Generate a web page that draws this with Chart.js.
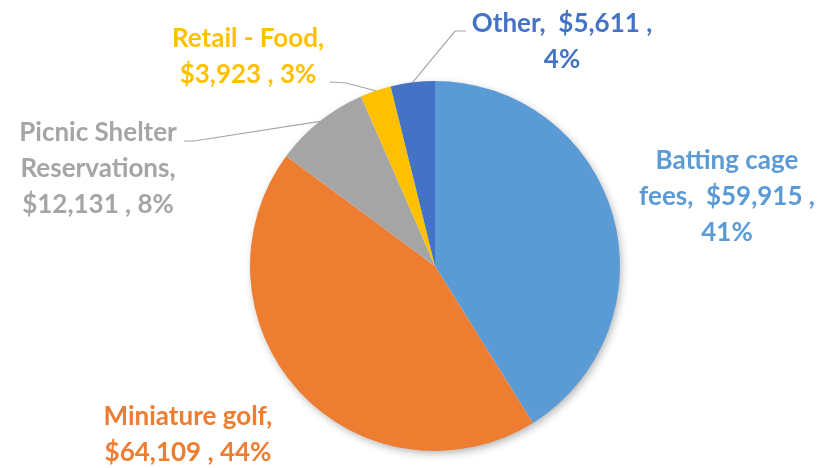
<!DOCTYPE html>
<html>
<head>
<meta charset="utf-8">
<script src="https://cdn.jsdelivr.net/npm/chart.js@4.4.1/dist/chart.umd.min.js"></script>
<style>
  html, body { margin: 0; padding: 0; background: #fff; }
  #wrap { width: 823px; height: 468px; position: relative; }
</style>
</head>
<body>
<div id="wrap"><canvas id="revenue-pie"></canvas></div>
<script>
// revenue by source
const categories = ['Batting cage fees', 'Miniature golf', 'Picnic Shelter Reservations', 'Retail - Food', 'Other'];
const revenue = [59915, 64109, 12131, 3923, 5611];
const sliceColors = ['#5B9BD5', '#ED7D31', '#A5A5A5', '#FFC000', '#4472C4'];

const total = revenue.reduce((a, b) => a + b, 0);
const money = v => '$' + v.toLocaleString('en-US');
const pct = v => Math.round(v / total * 100) + '%';

// how each data label wraps; {v} = amount, {p} = percent
const labelWrap = [
    ['Batting cage', 'fees,  {v} ,', '{p}'],
    ['Miniature golf,', '{v} , {p}'],
    ['Picnic Shelter', 'Reservations,', '{v} , {p}'],
    ['Retail - Food,', '{v} , {p}'],
    ['Other,  {v} ,', '{p}']
];
// label centre x, first line y
const labelPos = [
    { x: 727, y: 161 },
    { x: 188, y: 417 },
    { x: 98, y: 133 },
    { x: 248, y: 39 },
    { x: 562, y: 24 }
];
// leader lines: start point near the label and elbow, end is on the slice edge
const leaders = [
    null,
    null,
    { from: [184, 141], elbow: [194, 141] },
    { from: [330, 82], elbow: [346, 83] },
    { from: [466, 31], elbow: [455, 31] }
];
const lineGap = 36;

const pieShadow = {
    id: 'pieShadow',
    beforeDatasetsDraw(chart) {
        const arc = chart.getDatasetMeta(0).data[0];
        if (!arc) return;
        const ctx = chart.ctx;
        ctx.save();
        ctx.shadowColor = 'rgba(0,0,0,0.32)';
        ctx.shadowBlur = 9;
        ctx.shadowOffsetX = 2;
        ctx.shadowOffsetY = 3;
        ctx.fillStyle = '#fff';
        ctx.beginPath();
        ctx.arc(arc.x, arc.y, arc.outerRadius - 1, 0, Math.PI * 2);
        ctx.fill();
        ctx.restore();
    }
};

const sliceLabels = {
    id: 'sliceLabels',
    afterDatasetsDraw(chart) {
        const ctx = chart.ctx;
        const arcs = chart.getDatasetMeta(0).data;
        ctx.save();
        arcs.forEach((arc, i) => {
            const ld = leaders[i];
            if (ld) {
                const mid = (arc.startAngle + arc.endAngle) / 2;
                const ex = arc.x + Math.cos(mid) * arc.outerRadius;
                const ey = arc.y + Math.sin(mid) * arc.outerRadius;
                ctx.strokeStyle = '#A6A6A6';
                ctx.lineWidth = 1.2;
                ctx.beginPath();
                ctx.moveTo(ld.from[0], ld.from[1]);
                ctx.lineTo(ld.elbow[0], ld.elbow[1]);
                ctx.lineTo(ex, ey);
                ctx.stroke();
            }
            ctx.fillStyle = sliceColors[i];
            ctx.font = 'bold 26px Lato';
            ctx.textAlign = 'center';
            ctx.textBaseline = 'middle';
            labelWrap[i].forEach((line, k) => {
                const txt = line.replace('{v}', money(revenue[i])).replace('{p}', pct(revenue[i]));
                ctx.fillText(txt, labelPos[i].x, labelPos[i].y + k * lineGap);
            });
        });
        ctx.restore();
    }
};

new Chart(document.getElementById('revenue-pie'), {
    type: 'pie',
    data: {
        labels: categories,
        datasets: [{
            data: revenue,
            backgroundColor: sliceColors,
            borderWidth: 0
        }]
    },
    options: {
        responsive: true,
        maintainAspectRatio: false,
        animation: false,
        layout: { padding: { left: 250, right: 203, top: 81, bottom: 17 } },
        plugins: {
            legend: { display: false },
            tooltip: { enabled: false }
        }
    },
    plugins: [pieShadow, sliceLabels]
});
</script>
</body>
</html>
